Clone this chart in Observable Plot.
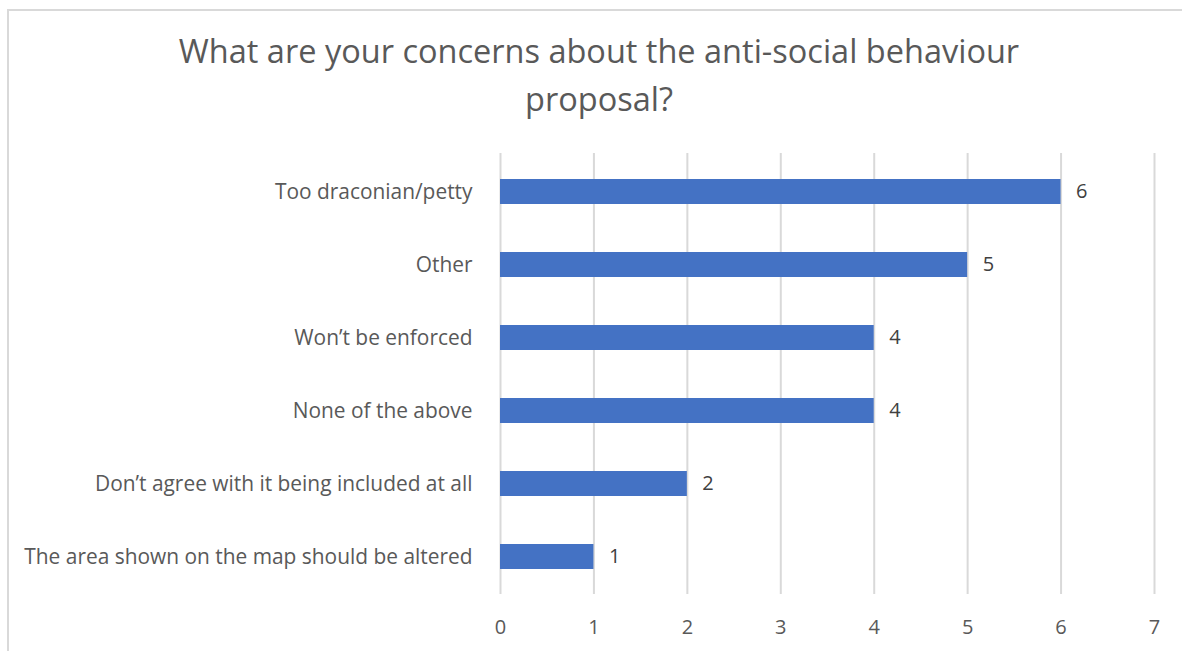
<!DOCTYPE html>
<html>
<head>
<meta charset="utf-8">
<script src="https://cdn.jsdelivr.net/npm/d3@7"></script>
<script src="https://cdn.jsdelivr.net/npm/@observablehq/plot@0.6"></script>
<style>
  html, body { margin: 0; padding: 0; background: #fff; }
  body { width: 1182px; height: 651px; position: relative; overflow: hidden; font-family: "Open Sans", sans-serif; }
  #frame { position: absolute; left: 7px; top: 9px; width: 1200px; height: 700px; border-top: 2px solid #d9d9d9; border-left: 2px solid #d9d9d9; }
  #title { position: absolute; left: 0; top: 27px; width: 1198px; text-align: center; color: #595959; font-size: 32.5px; line-height: 48px; }
  #chart { position: absolute; left: 0; top: 130px; }
</style>
</head>
<body>
<div id="frame"></div>
<div id="title">What are your concerns about the anti-social behaviour<br>proposal?</div>
<div id="chart"></div>
<script>
const categories = [
  "Too draconian/petty",
  "Other",
  "Won’t be enforced",
  "None of the above",
  "Don’t agree with it being included at all",
  "The area shown on the map should be altered"
];
const values = [6, 5, 4, 4, 2, 1];
const xTicks = [0, 1, 2, 3, 4, 5, 6, 7];

const data = categories.map((c, i) => ({category: c, value: values[i]}));

const chart = Plot.plot({
  width: 1182,
  height: 521,
  marginTop: 23,
  marginBottom: 57,
  marginLeft: 500,
  marginRight: 28,
  style: {fontFamily: "Open Sans, sans-serif", fontSize: "20px", color: "#595959", background: "transparent"},
  x: {domain: [0, 7], label: null},
  y: {domain: categories, paddingInner: 0.66, paddingOuter: 0.33, label: null},
  marks: [
    Plot.gridX(xTicks, {stroke: "#d9d9d9", strokeOpacity: 1, strokeWidth: 2}),
    Plot.barX(data, {x: "value", y: "category", fill: "#4472c4"}),
    Plot.text(data, {x: "value", y: "category", text: d => String(d.value), textAnchor: "start", dx: 15, fill: "#404040", fontSize: 20}),
    Plot.axisX({ticks: xTicks, tickFormat: "d", tickSize: 0, tickPadding: 25, fill: "#595959", fontSize: 20}),
    Plot.axisY({tickSize: 0, tickPadding: 28, fill: "#595959", fontSize: 20.9})
  ]
});
document.getElementById("chart").appendChild(chart);
</script>
</body>
</html>
